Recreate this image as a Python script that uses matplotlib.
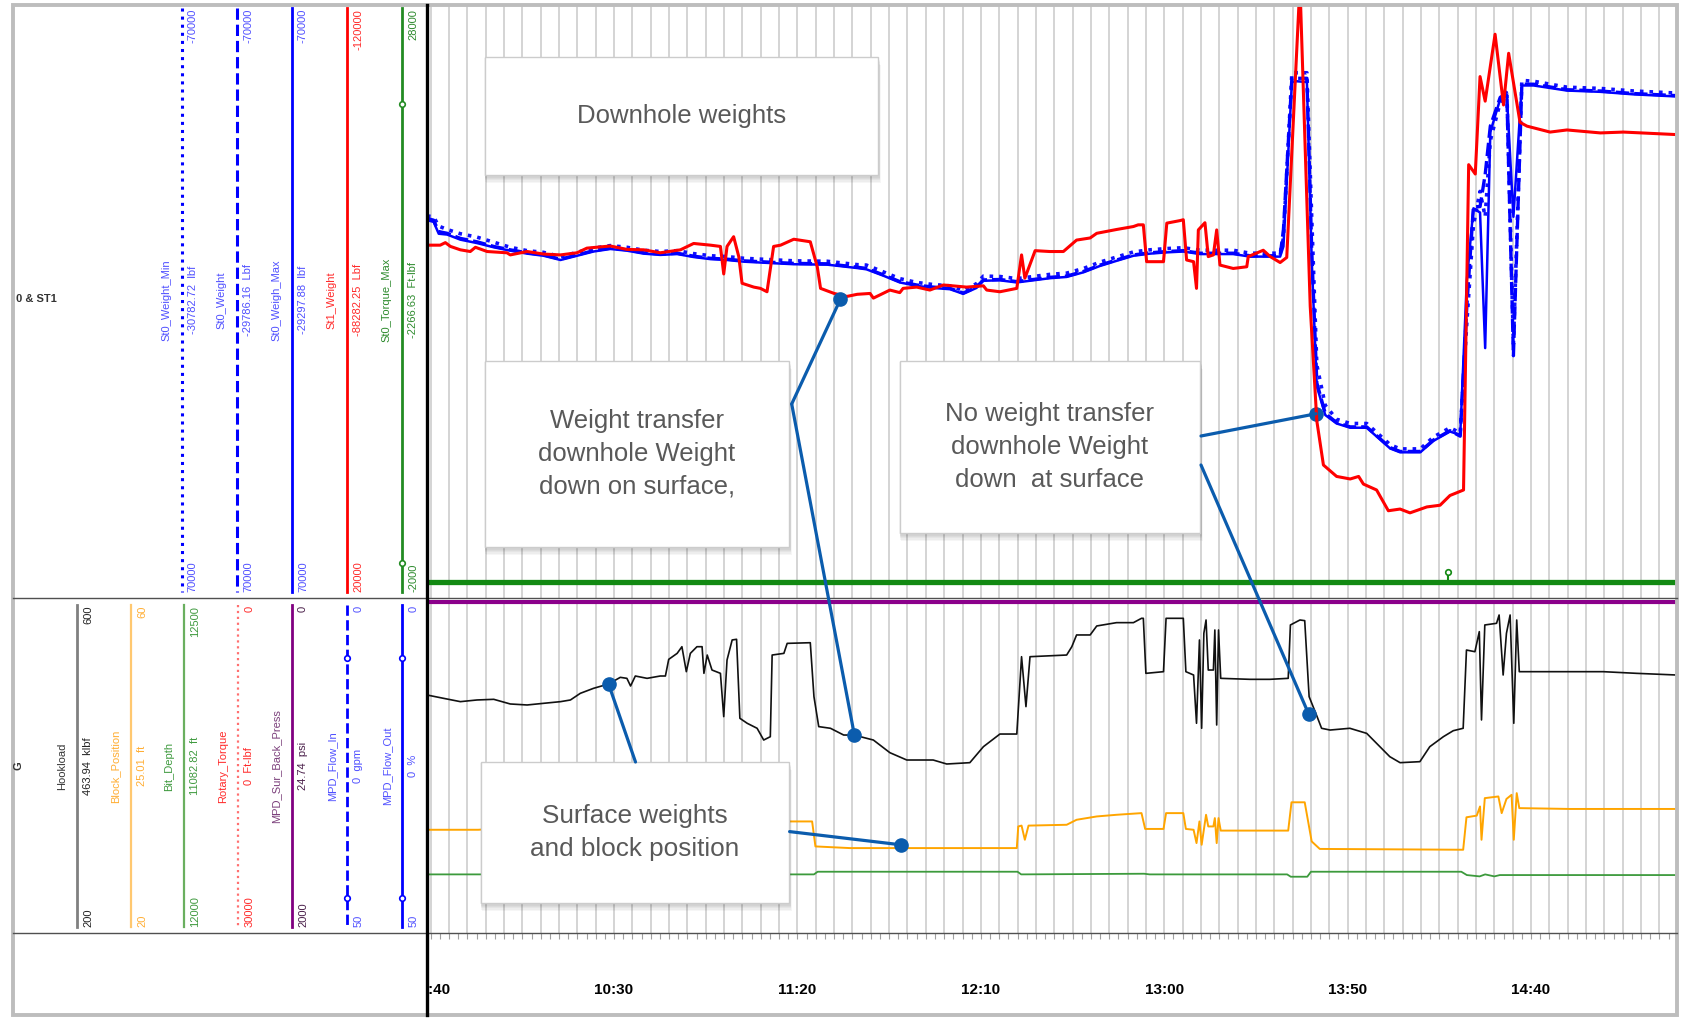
import numpy as np
import matplotlib.pyplot as plt
from matplotlib.patches import Rectangle, ConnectionPatch

######## data (time = minutes after midnight) ########

# downhole weights, klbf  (St0 lines share one scale, St1 has its own)
st0_weight = [
    (579, -19.6), (580.8, -19.2), (582.2, -16.5), (584.5, -16.1), (588.1, -14.9), (592.6, -14.1),
    (597.2, -13.0), (601.7, -12.2), (606.3, -11.5), (610.8, -11.0), (615.4, -10.0), (619.9, -11.0),
    (624.4, -12.0), (629, -12.6), (633.5, -12.2), (638.1, -11.5), (642.6, -11.2), (647.2, -11.4),
    (651.7, -10.7), (656.3, -10.2), (660.8, -10.0), (665.4, -9.6), (669.9, -9.4), (674.4, -9.2),
    (679, -9.0), (688.1, -8.9), (696.3, -8.1), (698.8, -7.8), (703.4, -6.3), (707.9, -4.7),
    (712.5, -3.9), (717, -3.4), (721.6, -3.1), (725.2, -2.0), (728.8, -3.4), (730.7, -5.1),
    (735.2, -5.2), (739.8, -4.7), (744.3, -5.2), (748.8, -5.7), (753.4, -6.0), (758, -7.1),
    (762.5, -8.6), (767, -9.8), (771.6, -11.0), (776.1, -11.5), (780.7, -11.8), (785.2, -12.0),
    (789.8, -11.4), (794.3, -11.4), (798.8, -11.4), (803.4, -10.8), (807.9, -10.8), (811.6, -10.8),
    (812.5, -17.0), (814.8, -52.7), (816.1, -52.7), (818.9, -52.7), (820.2, -12.5), (821.6, 19.2),
    (823.9, 26.4), (827, 28.6), (830.7, 29.6), (835.2, 29.6), (841.6, 34.5), (844.3, 35.4),
    (849.8, 35.4), (853.4, 32.7), (857.9, 30.5), (860.7, 31.8), (862.5, 1.1), (864.3, -22.4),
    (866.1, -22.4), (867.5, -30.0), (868.9, -41.4), (871.6, -48.2), (873.4, -49.1), (875.2, 12.8),
    (877.5, -51.3), (880.7, -51.3), (889.8, -50.0), (898.9, -49.7), (908, -49.1), (919.8, -48.6)]

st0_weight_max = [
    (579, -19.2), (580.8, -18.8), (582.2, -16.0), (584.5, -15.8), (588.1, -14.6), (592.6, -13.8),
    (597.2, -12.8), (601.7, -12.0), (606.3, -11.3), (610.8, -10.8), (615.4, -9.8), (619.9, -10.8),
    (624.4, -11.8), (629, -12.4), (633.5, -12.0), (638.1, -11.3), (642.6, -11.0), (647.2, -11.2),
    (651.7, -10.5), (656.3, -10.0), (660.8, -9.8), (665.4, -9.4), (669.9, -9.2), (674.4, -9.0),
    (679, -8.8), (688.1, -8.7), (696.3, -7.9), (698.8, -7.6), (703.4, -6.1), (707.9, -4.5),
    (712.5, -3.7), (717, -3.2), (721.6, -2.9), (725.2, -1.8), (728.8, -3.2), (730.7, -4.9),
    (735.2, -5.0), (739.8, -4.5), (744.3, -5.0), (748.8, -5.5), (753.4, -5.8), (758, -6.9),
    (762.5, -8.4), (767, -9.6), (771.6, -10.8), (776.1, -11.3), (780.7, -11.6), (785.2, -11.8),
    (789.8, -11.2), (794.3, -11.2), (798.8, -11.2), (803.4, -10.6), (807.9, -10.6), (811.6, -10.6),
    (812.5, -13.0), (814.8, -51.8), (816.1, -52.0), (818.9, -51.8), (820.2, -10.0), (821.6, 20.0),
    (823.9, 26.8), (827, 28.8), (830.7, 29.8), (835.2, 29.8), (841.6, 34.7), (844.3, 35.6),
    (849.8, 35.6), (853.4, 32.9), (857.9, 30.7), (860.7, 31.5), (862.5, -5.0), (864.3, -22.0),
    (866.1, -21.0), (867.5, 11.0), (868.9, -40.0), (871.6, -47.8), (873.4, -48.8), (875.2, -20.0),
    (877.5, -51.0), (880.7, -51.0), (889.8, -49.8), (898.9, -49.5), (908, -48.9), (919.8, -48.4)]

st0_weight_min = [
    (579, -20.2), (580.8, -20.0), (582.2, -17.8), (584.5, -17.0), (588.1, -16.0), (592.6, -15.2),
    (597.2, -14.0), (601.7, -12.8), (606.3, -12.0), (610.8, -11.6), (615.4, -10.6), (619.9, -11.6),
    (624.4, -12.6), (629, -13.2), (633.5, -12.8), (638.1, -12.1), (642.6, -11.8), (647.2, -12.0),
    (651.7, -11.3), (656.3, -10.8), (660.8, -10.6), (665.4, -10.2), (669.9, -10.0), (674.4, -9.8),
    (679, -9.6), (688.1, -9.5), (696.3, -8.7), (698.8, -8.6), (703.4, -7.0), (707.9, -5.4),
    (712.5, -4.5), (717, -4.0), (721.6, -3.7), (725.2, -2.6), (728.8, -4.2), (730.7, -6.0),
    (735.2, -5.9), (739.8, -5.4), (744.3, -5.9), (748.8, -6.4), (753.4, -6.7), (758, -7.8),
    (762.5, -9.3), (767, -10.5), (771.6, -11.7), (776.1, -12.2), (780.7, -12.5), (785.2, -12.7),
    (789.8, -12.1), (794.3, -12.1), (798.8, -12.1), (803.4, -11.4), (807.9, -11.4), (811.6, -11.4),
    (812.5, -15.0), (814.8, -54.0), (816.1, -54.0), (818.9, -54.0), (820.2, -20.0), (821.6, 15.0),
    (823.9, 24.5), (827, 27.8), (830.7, 28.8), (835.2, 28.8), (841.6, 33.8), (844.3, 34.8),
    (849.8, 34.8), (853.4, 32.0), (857.9, 29.8), (860.7, 31.0), (862.5, 5.0), (864.3, -18.0),
    (866.1, -26.0), (867.5, -20.0), (868.9, -38.0), (871.6, -47.0), (873.4, -50.0), (875.2, 10.0),
    (877.5, -52.2), (880.7, -52.0), (889.8, -50.6), (898.9, -50.3), (908, -49.7), (919.8, -49.2)]

st1_weight = [
    (579, -63.3), (582.6, -63.3), (584, -63.9), (585.4, -63.0), (588.1, -62.2), (590.8, -61.8),
    (592.2, -62.8), (595.4, -61.8), (600.8, -61.5), (601.7, -61.0), (606.3, -61.8), (610.8, -61.2),
    (615.4, -61.0), (619.9, -61.5), (622.6, -62.6), (629, -63.1), (633.5, -62.3), (638.1, -62.2),
    (642.6, -61.5), (648.1, -62.2), (651.7, -63.7), (656.3, -63.3), (659, -63.0), (659.9, -56.5),
    (660.8, -63.0), (662.6, -65.3), (664, -60.6), (664.9, -54.3), (668.1, -53.4), (669.9, -53.1),
    (671.7, -52.3), (673.5, -63.0), (675.4, -63.3), (679, -64.7), (683.5, -64.1), (685.4, -58.2),
    (686.3, -53.1), (690, -51.9), (693.5, -51.2), (696.3, -51.7), (699.8, -51.9), (700.7, -50.8),
    (705.2, -52.7), (707.9, -52.1), (708.8, -53.1), (712.5, -53.4), (716.1, -52.7), (719.8, -53.9),
    (726.1, -53.4), (730.7, -53.7), (731.6, -52.7), (735.2, -52.3), (739.8, -53.1), (741.1, -61.0),
    (742, -55.5), (744.8, -62.0), (748.8, -61.8), (752.5, -61.8), (756.1, -64.5), (759.8, -65.0),
    (761.6, -66.1), (767, -67.0), (771.6, -67.7), (772.9, -68.1), (774.3, -68.1), (775.2, -59.4),
    (779.8, -59.4), (780.7, -68.5), (784.3, -69.1), (785.2, -69.3), (786.1, -59.8), (788, -59.4),
    (788.8, -53.1), (789.3, -66.9), (791.1, -68.6), (792, -60.6), (793.4, -61.0), (794.3, -66.9),
    (795.2, -58.6), (798.8, -57.8), (802.5, -58.2), (802.9, -60.6), (807, -62.1), (808.9, -60.6),
    (811.6, -59.2), (813.4, -60.4), (817, -125.0), (819.8, -48.9), (821.6, -21.8), (823.4, -11.4),
    (827, -8.7), (830.7, -8.1), (833, -8.7), (834.3, -6.9), (837.9, -5.5), (841.1, -0.6),
    (844.3, -1.0), (847, -0.1), (851.6, -1.5), (855.2, -1.9), (857.9, -4.2), (861.6, -5.5),
    (863, -82.3), (864.8, -80.1), (866.1, -103.1), (867.5, -97.3), (870.2, -113.1), (872.5, -96.4),
    (873.9, -108.6), (877, -92.3), (878.9, -91.4), (885.2, -90.0), (889.8, -90.5), (898.9, -89.8),
    (905.2, -90.0), (919.8, -89.4)]

st0_torque_max = [(579, -1200), (919.8, -1200)]
torque_event = [(857.3, -700)]

# surface data
hookload = [
    (579, 485.9), (583.5, 481.9), (588.1, 477.9), (592.6, 479.9), (597.2, 480.7), (601.7, 475.1),
    (606.3, 473.9), (610.8, 475.9), (615.4, 477.9), (618.1, 479.9), (620.8, 487.9), (624.4, 493.9),
    (628.5, 499.1), (631.7, 507.1), (633.5, 505.9), (634.5, 496.7), (635.8, 508.7), (639, 505.9),
    (642.6, 508.7), (644, 508.7), (644.9, 528.7), (647.2, 535.9), (648.5, 543.9), (649.7, 513.9),
    (650.8, 535.9), (652.6, 543.9), (654, 543.9), (654.5, 511.9), (655.4, 533.9), (656.7, 515.9),
    (659, 511.9), (659.9, 459.9), (660.8, 527.9), (662.2, 552.0), (663.4, 552.8), (664.3, 457.9),
    (666.3, 451.9), (669, 445.9), (670.8, 431.8), (672.6, 435.8), (673.1, 533.9), (676.3, 535.9),
    (677.2, 547.9), (683.5, 548.7), (684.5, 483.9), (685.8, 447.9), (689, 445.9), (692.6, 437.8),
    (695.4, 437.8), (700.7, 431.8), (705.2, 416.6), (709.8, 407.8), (717, 407.8), (720.7, 403.0),
    (727, 404.6), (730.7, 423.8), (735.2, 439.0), (739.8, 439.0), (741.1, 531.9), (742.3, 471.9),
    (743.4, 531.9), (753.4, 533.9), (754.8, 543.9), (756.1, 558.0), (759.8, 558.0), (761.6, 568.8),
    (767, 572.8), (771.6, 572.8), (773.8, 578.0), (774.3, 578.0), (775, 511.9), (779.8, 513.9),
    (780.5, 578.0), (785.2, 578.0), (785.9, 513.9), (788, 509.9), (788.8, 451.9), (789.6, 552.0),
    (790.2, 445.9), (790.8, 560.0), (791.4, 576.0), (792, 515.9), (793.4, 515.9), (793.8, 564.0),
    (794.3, 449.9), (794.8, 564.0), (795.4, 505.9), (803.4, 504.7), (808.8, 504.7), (813.8, 505.9),
    (814.4, 570.0), (817, 576.0), (818.3, 575.2), (819.5, 483.9), (821.5, 461.9), (822.9, 445.9),
    (825.2, 443.8), (830.6, 445.9), (835.2, 439.8), (838.8, 423.8), (841.5, 411.8), (844.3, 404.6),
    (849.7, 405.8), (852.4, 423.8), (856.1, 435.8), (858.8, 443.0), (861.5, 445.9), (862.4, 539.9),
    (864.7, 537.9), (865.9, 562.0), (866.5, 455.9), (867.4, 570.0), (870.6, 572.0), (871.3, 582.0),
    (872.4, 509.9), (873.3, 560.0), (874.3, 582.0), (875.3, 451.9), (876.1, 576.0), (876.8, 513.9),
    (881.5, 513.9), (890.6, 513.9), (899.7, 513.9), (908.8, 511.9), (919.7, 509.9)]

block_position = [
    (579, 32.4), (593, 32.4), (600, 32.6), (620, 33.0), (640, 33.5), (645, 34.5), (660, 34.0),
    (665, 32.0), (673, 31.5), (673.5, 33.4), (684, 33.4), (684.9, 30.4), (694.3, 30.2), (739.8, 30.2),
    (740.2, 32.8), (741.1, 32.9), (742, 31.2), (743, 32.9), (753.4, 33.0), (756.1, 33.6), (761.6, 34.0),
    (767, 34.2), (773.8, 34.4), (774.8, 32.5), (779.8, 32.5), (780.5, 34.4), (785.2, 34.4),
    (785.9, 32.5), (788, 32.4), (788.8, 30.8), (789.6, 33.4), (790.2, 30.6), (791.4, 34.2), (792, 32.8),
    (793.4, 32.8), (793.8, 33.8), (794.3, 30.8), (794.8, 33.8), (795.4, 32.3), (813.8, 32.3),
    (814.7, 35.7), (818.3, 35.7), (820.2, 31.0), (822.4, 30.1), (861.5, 30.0), (862.4, 33.9),
    (865.2, 34.1), (866.1, 35.2), (866.5, 31.2), (867.4, 36.2), (871.1, 36.4), (872, 34.4),
    (873.3, 36.1), (874.7, 36.6), (875.3, 31.2), (876.1, 36.8), (876.8, 35.0), (890.6, 34.9),
    (919.7, 34.9)]

bit_depth = [
    (579, 12088), (684.5, 12088), (685.5, 12092), (740, 12092), (741, 12088), (774.5, 12089),
    (776, 12088), (813.5, 12088), (814.5, 12084.5), (819, 12084.5), (820, 12092), (861, 12092),
    (862.5, 12087), (866, 12085), (867.5, 12088), (870, 12085), (871.5, 12087), (919.7, 12087)]

back_press = [(579, 12), (919.8, 12)]

tick_times = [580, 630, 680, 730, 780, 830, 880]
tick_labels = ['09:40', '10:30', '11:20', '12:10', '13:00', '13:50', '14:40']

# header columns: name, (top, current, bottom)
top_names = ['St0_Weight_Min', 'St0_Weight', 'St0_Weigh_Max', 'St1_Weight', 'St0_Torque_Max']
top_values = [('-70000', '-30782.72  lbf', '70000'), ('-70000', '-29786.16  Lbf', '70000'),
              ('-70000', '-29297.88  lbf', '70000'), ('-120000', '-88282.25  Lbf', '20000'),
              ('28000', '-2266.63  Ft-lbf', '-2000')]
bot_names = ['Hookload', 'Block_Position', 'Bit_Depth', 'Rotary_Torque', 'MPD_Sur_Back_Press',
             'MPD_Flow_In', 'MPD_Flow_Out']
bot_values = [('600', '463.94  klbf', '200'), ('60', '25.01  ft', '20'), ('12500', '11082.82  ft', '12000'),
              ('0', '0  Ft-lbf', '30000'), ('0', '24.74  psi', '2000'), ('0', '0  gpm', '50'),
              ('0', '0  %', '50')]

t_left, t_right = 579, 919.8

######## figure ########

plt.rcParams['font.family'] = ['Liberation Sans', 'DejaVu Sans']
W, H = 1689, 1018
fig = plt.figure(figsize=(W / 100, H / 100), dpi=100)


def px_axes(x0, y0, x1, y1):
    # axes placed by pixel box (top-left origin)
    return fig.add_axes([x0 / W, 1 - y1 / H, (x1 - x0) / W, (y1 - y0) / H])


def xy(pts):
    a = np.array(pts, dtype=float)
    return a[:, 0], a[:, 1]


def track(base, lo, hi):
    a = base.twinx()
    a.set_ylim(lo, hi)
    a.set_axis_off()
    return a


ax_top = px_axes(427, 5, 1677, 598)
ax_bot = px_axes(427, 600, 1677, 933)
ax_time = px_axes(427, 933, 1677, 1015)
for a in (ax_top, ax_bot, ax_time):
    a.set_xlim(t_left, t_right)
    a.set_xticks([])
    a.set_yticks([])
    for s in a.spines.values():
        s.set_visible(False)

grid_times = np.arange(580, 920, 5)
for a in (ax_top, ax_bot):
    a.vlines(grid_times, 0, 1, transform=a.get_xaxis_transform(), color='#c9c9c9', lw=1.1, zorder=0)
ax_time.set_ylim(0, 1)
ax_time.vlines(np.arange(580, 920, 2.5), 0.93, 1.0, color='#a0a0a0', lw=0.8)
for t, lab in zip(tick_times, tick_labels):
    ax_time.text(t, 0.305, lab, ha='center', va='center', fontsize=11, fontweight='bold', clip_on=True)

# downhole track
ax_b = track(ax_top, 70, -70)
ax_b.plot(*xy(st0_weight_min), ls=':', color='#1010ff', lw=2.6)
ax_b.plot(*xy(st0_weight), ls=(0, (4, 1.5)), color='#0000ff', lw=2.4)
ax_b.plot(*xy(st0_weight_max), color='#0000ff', lw=1.8)
ax_r = track(ax_top, 20, -120)
ax_r.plot(*xy(st1_weight), color='#ff0000', lw=2.2)
ax_tq = track(ax_top, -2000, 28000)
ax_tq.plot(*xy(st0_torque_max), color='#138a13', lw=3.8)
ev_t, ev_v = xy(torque_event)
ax_tq.vlines(ev_t, st0_torque_max[0][1], ev_v, color='#138a13', lw=1.5)
ax_tq.plot(ev_t, ev_v, 'o', ms=4, mfc='white', mec='#138a13', mew=1.2)

# surface track
ax_p = track(ax_bot, 2000, 0)
ax_p.plot(*xy(back_press), color='#8b008b', lw=3)
ax_bd = track(ax_bot, 12000, 12500)
ax_bd.plot(*xy(bit_depth), color='#3c9a3c', lw=1.3)
ax_bp = track(ax_bot, 20, 60)
ax_bp.plot(*xy(block_position), color='#ffa500', lw=1.4)
ax_h = track(ax_bot, 200, 600)
ax_h.plot(*xy(hookload), color='#111111', lw=1.2)

######## overlay: frame, header, callouts ########

ov = fig.add_axes([0, 0, 1, 1])
ov.set_xlim(0, W)
ov.set_ylim(H, 0)
ov.axis('off')

ov.add_patch(Rectangle((13, 5), 1664, 1010, fill=False, ec='#bdbdbd', lw=2.8))
ov.plot([13, 1677], [598, 598], color='#505050', lw=1.0)
ov.plot([13, 1677], [933, 933], color='#505050', lw=1.0)
ov.plot([427, 427], [5, 1015], color='black', lw=2.4)

ov.text(16, 298.5, '0 & ST1', fontsize=8, fontweight='bold', va='center', color='#333333')
ov.text(14, 766, 'G', rotation=90, fontsize=8, fontweight='bold', ha='left', va='center', color='#333333')


def header_col(xl, y0, y1, ym, color, ls, lw, name, vals, name_c, val_c):
    ov.plot([xl, xl], [y0, y1], color=color, ls=ls, lw=lw)
    ov.text(xl - 15.5, ym, name, rotation=90, ha='center', va='center', fontsize=8, color=name_c)
    ov.text(xl + 11, y0 + 1, vals[0], rotation=90, ha='center', va='top', fontsize=8, color=val_c)
    ov.text(xl + 11, ym, vals[1], rotation=90, ha='center', va='center', fontsize=8, color=val_c)
    ov.text(xl + 11, y1, vals[2], rotation=90, ha='center', va='bottom', fontsize=8, color=val_c)


top_style = [(181.7, '#0000ff', ':', 2.2, '#5050ff', '#5050ff'),
             (237.3, '#0000ff', '--', 2.2, '#5050ff', '#5050ff'),
             (292.0, '#0000ff', '-', 2.0, '#5050ff', '#5050ff'),
             (347.3, '#ff0000', '-', 2.0, '#ff2a2a', '#ff2a2a'),
             (402.3, '#228b22', '-', 2.0, '#2e8b2e', '#2e8b2e')]
for (xl, c, ls, lw, nc, vc), name, vals in zip(top_style, top_names, top_values):
    header_col(xl, 8, 592, 300, c, ls, lw, name, vals, nc, vc)
ov.plot([402.3, 402.3], [104, 563], 'o', ms=4, mfc='white', mec='#228b22', mew=1.2)

bot_style = [(77.3, '#808080', '-', 2.0, '#333333', '#222222'),
             (131.0, '#ffc870', '-', 1.6, '#ffae34', '#ffae34'),
             (184.3, '#6aaf5f', '-', 1.6, '#3f9a3f', '#3f9a3f'),
             (238.3, '#ff7070', ':', 1.6, '#ff2a2a', '#ff2a2a'),
             (292.0, '#800080', '-', 2.0, '#7b3f7b', '#4a1f4a'),
             (347.3, '#0000ff', '--', 2.0, '#5050ff', '#5050ff'),
             (402.3, '#0000ff', '-', 2.0, '#5050ff', '#5050ff')]
for (xl, c, ls, lw, nc, vc), name, vals in zip(bot_style, bot_names, bot_values):
    header_col(xl, 605, 927, 766, c, ls, lw, name, vals, nc, vc)
for xl in (347.3, 402.3):
    ov.plot([xl, xl], [658, 898], 'o', ms=4, mfc='white', mec='#0000ff', mew=1.2)


def callout(x0, y0, x1, y1, text, size=18.5, spacing=1.45):
    # drop shadow + white box
    for i in range(1, 7):
        ov.add_patch(Rectangle((x0 - 1 + 0.3 * i, y0 + 1.3 * i), x1 - x0 + 2, y1 - y0,
                               fc='black', ec='none', alpha=0.035, zorder=5))
    ov.add_patch(Rectangle((x0, y0), x1 - x0, y1 - y0, fc='white', ec='#cccccc', lw=1, zorder=6))
    ov.text((x0 + x1) / 2, (y0 + y1) / 2, text, ha='center', va='center', fontsize=size,
            color='#595959', linespacing=spacing, zorder=7)


def connect(px, py, ax, t, v):
    con = ConnectionPatch(xyA=(px, py), coordsA=ov.transData, xyB=(t, v), coordsB=ax.transData,
                          color='#0b5cad', lw=2.3, zorder=8)
    ov.add_artist(con)
    ax.plot([t], [v], 'o', ms=9.5, color='#0b5cad', clip_on=False, zorder=10)


callout(485, 57, 878, 175, 'Downhole weights')
callout(485, 361, 789, 547, 'Weight transfer\ndownhole Weight\ndown on surface,')
callout(900, 361, 1200, 533, 'No weight transfer\ndownhole Weight\ndown  at surface')
callout(481, 762, 789, 903, 'Surface weights\nand block position', size=18.8, spacing=1.5)

connect(791.7, 404, ax_r, 691.7, -50.5)
connect(791.7, 404, ax_h, 695.5, 438.3)
connect(1201, 436, ax_b, 821.4, 26.5)
connect(1201, 465, ax_h, 819.4, 462.8)
connect(635.5, 762, ax_h, 628.5, 499.1)
connect(789.6, 831.6, ax_bp, 708.1, 30.6)

fig.savefig('out.png', dpi=100)
